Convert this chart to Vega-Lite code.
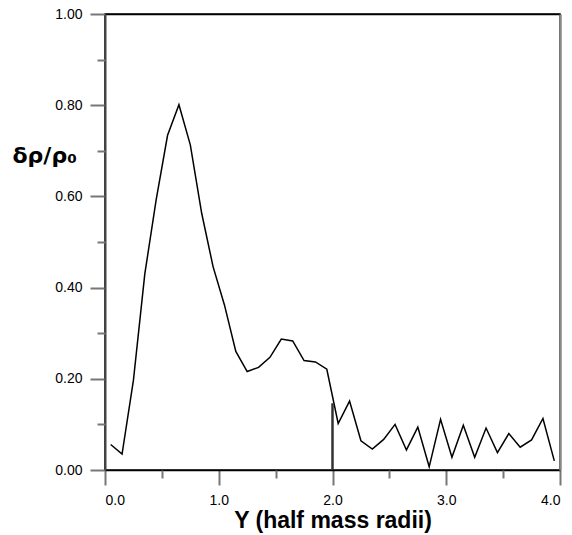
{
  "$schema": "https://vega.github.io/schema/vega-lite/v6.json",
  "width": 455,
  "height": 456,
  "autosize": {"type": "none"},
  "padding": {"left": 105, "top": 14, "right": 12, "bottom": 65},
  "background": "white",
  "config": {
    "view": {"stroke": "black", "strokeWidth": 1.5},
    "font": "Liberation Sans",
    "axis": {"labelFont": "Liberation Sans", "titleFont": "Liberation Sans", "labelColor": "black", "titleColor": "black", "grid": false}
  },
  "datasets": {
    "curve": [
      {"x": 0.05, "y": 0.056}, {"x": 0.15, "y": 0.035}, {"x": 0.25, "y": 0.197},
      {"x": 0.35, "y": 0.43}, {"x": 0.45, "y": 0.593}, {"x": 0.55, "y": 0.734},
      {"x": 0.65, "y": 0.801}, {"x": 0.75, "y": 0.713}, {"x": 0.85, "y": 0.563},
      {"x": 0.95, "y": 0.446}, {"x": 1.05, "y": 0.362}, {"x": 1.15, "y": 0.26},
      {"x": 1.25, "y": 0.216}, {"x": 1.35, "y": 0.225}, {"x": 1.45, "y": 0.247},
      {"x": 1.55, "y": 0.287}, {"x": 1.65, "y": 0.283}, {"x": 1.75, "y": 0.24},
      {"x": 1.85, "y": 0.237}, {"x": 1.95, "y": 0.221}, {"x": 2.05, "y": 0.102},
      {"x": 2.15, "y": 0.151}, {"x": 2.25, "y": 0.064}, {"x": 2.35, "y": 0.046},
      {"x": 2.45, "y": 0.067}, {"x": 2.55, "y": 0.1}, {"x": 2.65, "y": 0.044},
      {"x": 2.75, "y": 0.094}, {"x": 2.85, "y": 0.007}, {"x": 2.95, "y": 0.111},
      {"x": 3.05, "y": 0.028}, {"x": 3.15, "y": 0.098}, {"x": 3.25, "y": 0.028},
      {"x": 3.35, "y": 0.092}, {"x": 3.45, "y": 0.038}, {"x": 3.55, "y": 0.08},
      {"x": 3.65, "y": 0.05}, {"x": 3.75, "y": 0.066}, {"x": 3.85, "y": 0.113},
      {"x": 3.95, "y": 0.02}
    ],
    "marker": [{"x": 2.0, "y": 0.0, "y2": 0.146}]
  },
  "resolve": {"axis": {"x": "independent", "y": "independent"}},
  "layer": [
    {
      "data": {"name": "curve"},
      "mark": {"type": "line", "color": "black", "strokeWidth": 1.5},
      "encoding": {
        "x": {"field": "x", "type": "quantitative", "scale": {"domain": [0, 4], "nice": false},
          "axis": {"orient": "bottom", "values": [0, 1, 2, 3, 4], "format": ".1f", "tickSize": 15, "tickWidth": 2, "tickColor": "#777",
            "domainColor": "black", "domainWidth": 1.5, "labelFontSize": 14, "labelPadding": 8,
            "title": "Y (half mass radii)", "titleFontSize": 23, "titleFontWeight": "bold", "titlePadding": 2}},
        "y": {"field": "y", "type": "quantitative", "scale": {"domain": [0, 1], "nice": false},
          "axis": {"orient": "left", "values": [0, 0.2, 0.4, 0.6, 0.8, 1.0], "format": ".2f", "tickSize": 15, "tickWidth": 2, "tickColor": "#777",
            "domainColor": "#444", "domainWidth": 2, "labelFontSize": 14, "labelPadding": 8,
            "title": "δρ/ρ₀", "titleFont": "DejaVu Sans", "titleAngle": 0, "titleAlign": "left", "titleBaseline": "alphabetic",
            "titleX": -93, "titleY": 148, "titleFontSize": 22, "titleFontWeight": "bold"}}
      }
    },
    {
      "data": {"name": "marker"},
      "mark": {"type": "rule", "color": "#333", "strokeWidth": 2},
      "encoding": {
        "x": {"field": "x", "type": "quantitative", "scale": {"domain": [0, 4], "nice": false},
          "axis": {"orient": "bottom", "values": [0.5, 1.5, 2.5, 3.5], "labels": false, "domain": false, "tickSize": 8, "tickWidth": 2, "tickColor": "#777", "title": null}},
        "y": {"field": "y", "type": "quantitative", "scale": {"domain": [0, 1], "nice": false},
          "axis": {"orient": "left", "values": [0.1, 0.3, 0.5, 0.7, 0.9], "labels": false, "domain": false, "tickSize": 8, "tickWidth": 2, "tickColor": "#777", "title": null}},
        "y2": {"field": "y2"}
      }
    },
    {
      "data": {"name": "marker"},
      "mark": {"type": "rule", "color": "#333", "strokeWidth": 2},
      "encoding": {
        "x": {"field": "x", "type": "quantitative", "scale": {"domain": [0, 4], "nice": false},
          "axis": {"orient": "top", "labels": false, "ticks": false, "domainColor": "black", "domainWidth": 1.5, "title": null}},
        "y": {"field": "y", "type": "quantitative", "scale": {"domain": [0, 1], "nice": false},
          "axis": {"orient": "right", "labels": false, "ticks": false, "domainColor": "#888", "domainWidth": 2.5, "title": null}},
        "y2": {"field": "y2"}
      }
    }
  ]
}
